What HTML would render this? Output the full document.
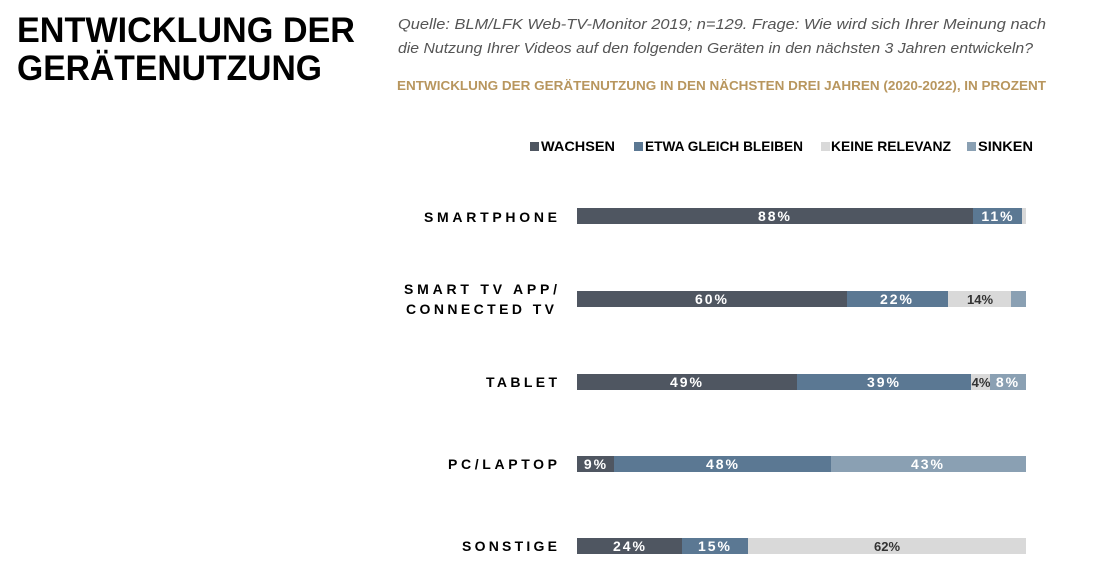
<!DOCTYPE html>
<html><head><meta charset="utf-8"><style>
html,body{margin:0;padding:0;background:#fff;}
svg{display:block;font-family:"Liberation Sans",sans-serif;}
</style></head><body>
<svg width="1100" height="587" viewBox="0 0 1100 587">
<text x="17" y="42" font-size="35" font-weight="bold" fill="#000" textLength="338" lengthAdjust="spacingAndGlyphs">ENTWICKLUNG DER</text>
<text x="17" y="80" font-size="35" font-weight="bold" fill="#000" textLength="305" lengthAdjust="spacingAndGlyphs">GERÄTENUTZUNG</text>
<text x="398" y="29" font-size="15" font-style="italic" fill="#555" textLength="648" lengthAdjust="spacingAndGlyphs">Quelle: BLM/LFK Web-TV-Monitor 2019; n=129. Frage: Wie wird sich Ihrer Meinung nach</text>
<text x="398" y="53" font-size="15" font-style="italic" fill="#555" textLength="635" lengthAdjust="spacingAndGlyphs">die Nutzung Ihrer Videos auf den folgenden Geräten in den nächsten 3 Jahren entwickeln?</text>
<text x="397" y="90" font-size="13" font-weight="bold" fill="#b8965e" textLength="649" lengthAdjust="spacingAndGlyphs">ENTWICKLUNG DER GERÄTENUTZUNG IN DEN NÄCHSTEN DREI JAHREN (2020-2022), IN PROZENT</text>
<g font-size="14" font-weight="bold" fill="#000">
<rect x="530" y="142" width="9" height="9" fill="#4f5661"/><text x="541" y="151" textLength="74" lengthAdjust="spacingAndGlyphs">WACHSEN</text>
<rect x="634" y="142" width="9" height="9" fill="#5b7893"/><text x="645" y="151" textLength="158" lengthAdjust="spacingAndGlyphs">ETWA GLEICH BLEIBEN</text>
<rect x="821" y="142" width="9" height="9" fill="#d9d9d9"/><text x="831" y="151" textLength="120" lengthAdjust="spacingAndGlyphs">KEINE RELEVANZ</text>
<rect x="967" y="142" width="9" height="9" fill="#8aa0b3"/><text x="978" y="151" textLength="55" lengthAdjust="spacingAndGlyphs">SINKEN</text>
</g>
<g font-size="14" font-weight="bold" fill="#000">
<text x="424" y="222" textLength="133" lengthAdjust="spacing">SMARTPHONE</text>
<text x="404" y="294" textLength="153" lengthAdjust="spacing">SMART TV APP/</text>
<text x="406" y="314" textLength="148" lengthAdjust="spacing">CONNECTED TV</text>
<text x="486" y="387" textLength="71" lengthAdjust="spacing">TABLET</text>
<text x="448" y="469" textLength="109" lengthAdjust="spacing">PC/LAPTOP</text>
<text x="462" y="551" textLength="95" lengthAdjust="spacing">SONSTIGE</text>
</g>
<g>
<rect x="577" y="208" width="396" height="16" fill="#4f5661"/>
<rect x="973" y="208" width="49" height="16" fill="#5b7893"/>
<rect x="1022" y="208" width="4" height="16" fill="#d9d9d9"/>
<rect x="577" y="291" width="270" height="16" fill="#4f5661"/>
<rect x="847" y="291" width="101" height="16" fill="#5b7893"/>
<rect x="948" y="291" width="63" height="16" fill="#d9d9d9"/>
<rect x="1011" y="291" width="15" height="16" fill="#8aa0b3"/>
<rect x="577" y="374" width="220" height="16" fill="#4f5661"/>
<rect x="797" y="374" width="174" height="16" fill="#5b7893"/>
<rect x="971" y="374" width="19" height="16" fill="#d9d9d9"/>
<rect x="990" y="374" width="36" height="16" fill="#8aa0b3"/>
<rect x="577" y="456" width="37" height="16" fill="#4f5661"/>
<rect x="614" y="456" width="217" height="16" fill="#5b7893"/>
<rect x="831" y="456" width="195" height="16" fill="#8aa0b3"/>
<rect x="577" y="538" width="105" height="16" fill="#4f5661"/>
<rect x="682" y="538" width="66" height="16" fill="#5b7893"/>
<rect x="748" y="538" width="278" height="16" fill="#d9d9d9"/>
</g>
<g font-size="14" font-weight="bold" fill="#fff" text-anchor="middle" letter-spacing="2">
<text x="775" y="221">88%</text>
<text x="998" y="221">11%</text>
<text x="712" y="304">60%</text>
<text x="897" y="304">22%</text>
<text x="687" y="387">49%</text>
<text x="884" y="387">39%</text>
<text x="1008" y="387">8%</text>
<text x="596" y="469">9%</text>
<text x="723" y="469">48%</text>
<text x="928" y="469">43%</text>
<text x="630" y="551">24%</text>
<text x="715" y="551">15%</text>
</g>
<g font-size="13" font-weight="bold" fill="#333" text-anchor="middle">
<text x="980" y="304">14%</text>
<text x="981" y="387">4%</text>
<text x="887" y="551">62%</text>
</g>
</svg>
</body></html>
